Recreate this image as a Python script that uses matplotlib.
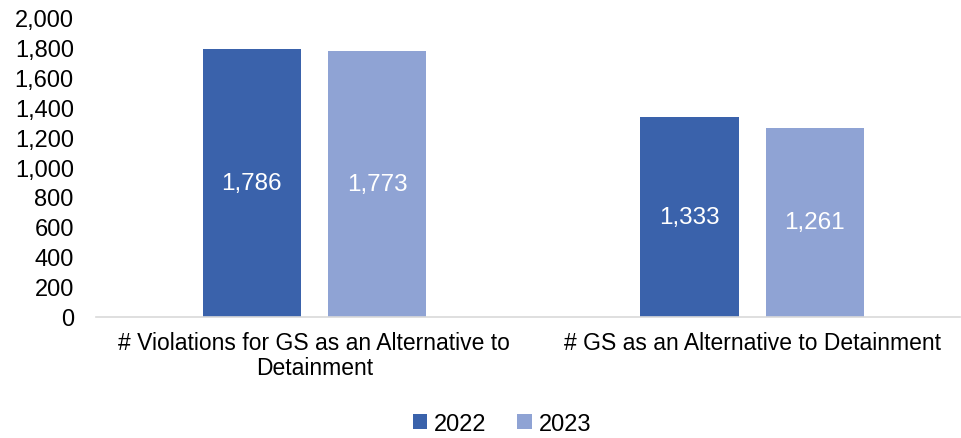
import matplotlib.pyplot as plt
import numpy as np

categories = ["# Violations for GS as an Alternative to\nDetainment",
              "# GS as an Alternative to Detainment"]
years = ["2022", "2023"]
vals_2022 = [1786, 1333]
vals_2023 = [1773, 1261]
yticks = [0, 200, 400, 600, 800, 1000, 1200, 1400, 1600, 1800, 2000]

plt.rcParams['font.family'] = ['Liberation Sans', 'DejaVu Sans']

fig = plt.figure(figsize=(9.61, 4.39), dpi=100)
ax = fig.add_axes([96/961, 121/439, 864/961, 300/439])

x = np.arange(len(categories))
w = 0.224
off = 0.143
b1 = ax.bar(x - off, vals_2022, w, color="#3A62AB", label=years[0])
b2 = ax.bar(x + off, vals_2023, w, color="#8FA3D4", label=years[1])

for bars in (b1, b2):
    for b in bars:
        h = b.get_height()
        ax.text(b.get_x() + b.get_width()/2, h/2, f"{h:,.0f}",
                ha="center", va="center", color="white", fontsize=17.5)

ax.set_xlim(-0.499, 1.475)
ax.set_ylim(0, 2000)
ax.set_yticks(yticks)
ax.set_yticklabels([f"{t:,}" for t in yticks], fontsize=17)
ax.set_xticks(x)
ax.set_xticklabels(categories, fontsize=16.5, linespacing=1.1)
ax.tick_params(axis="both", length=0)
ax.tick_params(axis="y", pad=16)
ax.tick_params(axis="x", pad=10)

for s in ["top", "right", "left"]:
    ax.spines[s].set_visible(False)
ax.spines["bottom"].set_color("#d9d9d9")
ax.spines["bottom"].set_linewidth(1.2)

fig.legend(loc="center", bbox_to_anchor=(502/961, 14/439), ncol=2, frameon=False,
           fontsize=17, handlelength=0.6, handleheight=0.6, handletextpad=0.3,
           columnspacing=1.3)

fig.savefig("out.png", dpi=100)
